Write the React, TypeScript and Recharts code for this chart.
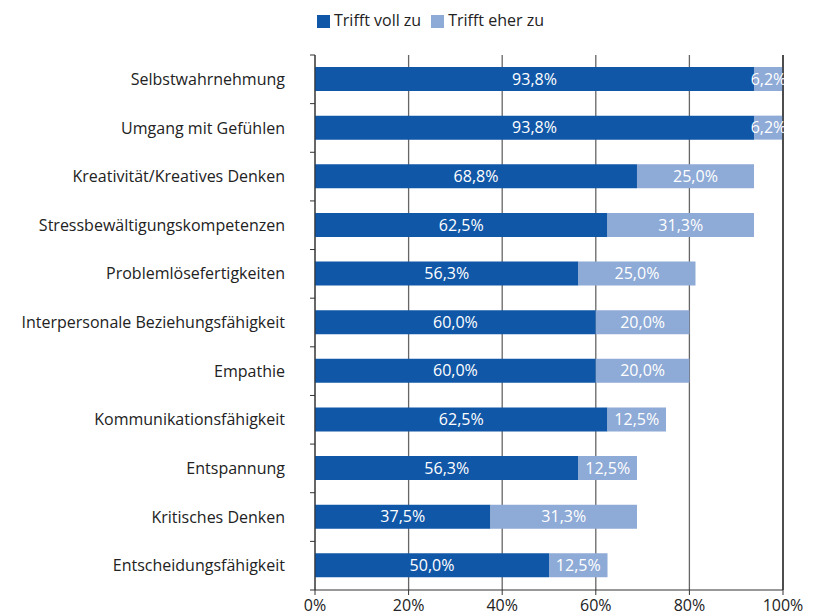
import React from "react";
import {
  BarChart,
  Bar,
  XAxis,
  YAxis,
  CartesianGrid,
  Legend,
  LabelList,
  ReferenceLine,
} from "recharts";

const skills = [
  "Selbstwahrnehmung",
  "Umgang mit Gefühlen",
  "Kreativität/Kreatives Denken",
  "Stressbewältigungskompetenzen",
  "Problemlösefertigkeiten",
  "Interpersonale Beziehungsfähigkeit",
  "Empathie",
  "Kommunikationsfähigkeit",
  "Entspannung",
  "Kritisches Denken",
  "Entscheidungsfähigkeit",
];

const trifftVoll = [93.8, 93.8, 68.8, 62.5, 56.3, 60.0, 60.0, 62.5, 56.3, 37.5, 50.0];
const trifftEher = [6.2, 6.2, 25.0, 31.3, 25.0, 20.0, 20.0, 12.5, 12.5, 31.3, 12.5];

const xTicks = [0, 20, 40, 60, 80, 100];

const data = skills.map((name, i) => ({
  name,
  voll: trifftVoll[i],
  eher: trifftEher[i],
}));

const DARK = "#1157a7";
const LIGHT = "#8eaad6";
const AXIS = "#333";
const FONT = "'Open Sans', sans-serif";
const LABEL_GAP = 30;

const fmt = (v: any) => `${Number(v).toFixed(1).replace(".", ",")}%`;

// category label plus the small tick marks sitting on the band boundaries
function SkillTick(props: any) {
  const { x, y, payload, index, visibleTicksCount } = props;
  const half = payload.offset || 0;
  const axisX = x + LABEL_GAP;
  const isLast = index === visibleTicksCount - 1;
  return (
    <g>
      <line x1={axisX - 5} x2={axisX} y1={y - half} y2={y - half} stroke={AXIS} />
      {isLast && (
        <line x1={axisX - 5} x2={axisX} y1={y + half} y2={y + half} stroke={AXIS} />
      )}
      <text
        x={x}
        y={y}
        dy="0.35em"
        textAnchor="end"
        fill="#222"
        fontSize={16}
        fontFamily={FONT}
      >
        {payload.value}
      </text>
    </g>
  );
}

export default function App() {
  return (
    <div style={{ position: "absolute", left: 0, top: 0, fontFamily: FONT }}>
      <BarChart
        width={817}
        height={616}
        data={data}
        layout="vertical"
        margin={{ top: 33, right: 34, left: 0, bottom: 0 }}
      >
        <CartesianGrid horizontal={false} vertical stroke="#666" strokeWidth={1.3} />
        <XAxis
          type="number"
          domain={[0, 100]}
          ticks={xTicks}
          tickFormatter={(v) => `${v}%`}
          height={26}
          tickSize={5}
          tickMargin={5}
          axisLine={{ stroke: AXIS }}
          tickLine={{ stroke: AXIS }}
          tick={{ fill: "#222", fontSize: 16, fontFamily: FONT }}
        />
        <YAxis
          type="category"
          dataKey="name"
          width={315}
          tickSize={0}
          tickMargin={LABEL_GAP}
          axisLine={{ stroke: AXIS }}
          tickLine={false}
          tick={<SkillTick />}
        />
        <ReferenceLine x={100} stroke="#222" strokeWidth={1.3} />
        <Legend
          verticalAlign="top"
          align="left"
          iconType="square"
          iconSize={13}
          itemSorter={(item: any) => (item.dataKey === "voll" ? 0 : 1)}
          wrapperStyle={{ top: 9, left: 317, width: 300, fontSize: 16, color: "#222" }}
          formatter={(value) => <span style={{ color: "#222" }}>{value}</span>}
        />
        <Bar
          dataKey="voll"
          name="Trifft voll zu"
          stackId="a"
          barSize={24}
          fill={DARK}
          isAnimationActive={false}
        >
          <LabelList
            dataKey="voll"
            position="center"
            formatter={fmt}
            fill="#fff"
            fontSize={16}
            fontFamily={FONT}
          />
        </Bar>
        <Bar
          dataKey="eher"
          name="Trifft eher zu"
          stackId="a"
          barSize={24}
          fill={LIGHT}
          isAnimationActive={false}
        >
          <LabelList
            dataKey="eher"
            position="center"
            formatter={fmt}
            fill="#fff"
            fontSize={16}
            fontFamily={FONT}
          />
        </Bar>
      </BarChart>
    </div>
  );
}
